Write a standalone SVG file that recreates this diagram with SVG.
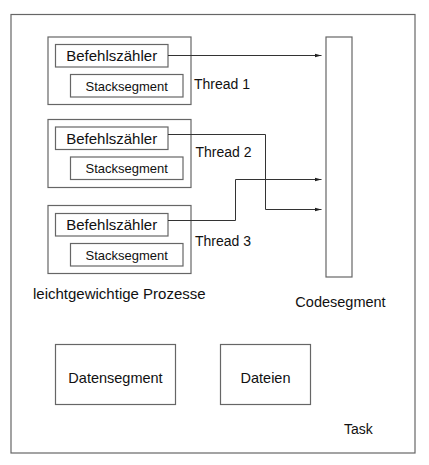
<svg xmlns="http://www.w3.org/2000/svg" width="429" height="465" viewBox="0 0 429 465">
<defs>
<style>
.box{fill:#fff;stroke:#666;stroke-width:1.2}
.t{font-family:"Liberation Sans",Arial,sans-serif;fill:#111;font-size:14px}
.b{font-size:15px}
.s{font-size:13px}
.c{fill:none;stroke:#333;stroke-width:1}
</style>
<marker id="ah" markerWidth="7" markerHeight="5" refX="7" refY="2.5" orient="auto" markerUnits="userSpaceOnUse">
<path d="M0,0.5 L7,2.5 L0,4.5 z" fill="#222"/>
</marker>
</defs>
<rect width="429" height="465" fill="#fff"/>
<g id="task">
<rect class="box" x="11" y="14.5" width="404" height="438.5"/>
<text class="t" x="344" y="434">Task</text>
</g>
<g id="thread1">
<rect class="box" x="48" y="37" width="143" height="67.5"/>
<rect class="box" x="55.5" y="44.5" width="112.5" height="22.5"/>
<text class="t b" x="111.7" y="61" text-anchor="middle">Befehlszähler</text>
<rect class="box" x="70.5" y="74.5" width="112.5" height="22.5"/>
<text class="t s" x="126.7" y="90.5" text-anchor="middle">Stacksegment</text>
<text class="t" x="194" y="89">Thread 1</text>
</g>
<g id="thread2">
<rect class="box" x="48" y="119.5" width="143" height="68"/>
<rect class="box" x="55.5" y="127" width="112.5" height="22.5"/>
<text class="t b" x="111.7" y="143.5" text-anchor="middle">Befehlszähler</text>
<rect class="box" x="70.5" y="157" width="112.5" height="22.5"/>
<text class="t s" x="126.7" y="173" text-anchor="middle">Stacksegment</text>
<text class="t" x="195.5" y="157">Thread 2</text>
</g>
<g id="thread3">
<rect class="box" x="48" y="205.5" width="143" height="68"/>
<rect class="box" x="55.5" y="213.5" width="112.5" height="22.5"/>
<text class="t b" x="111.7" y="230" text-anchor="middle">Befehlszähler</text>
<rect class="box" x="70.5" y="243.5" width="112.5" height="22.5"/>
<text class="t s" x="126.7" y="259.5" text-anchor="middle">Stacksegment</text>
<text class="t" x="195" y="246">Thread 3</text>
</g>
<g id="lwp-label">
<text class="t b" x="33" y="299">leichtgewichtige Prozesse</text>
</g>
<g id="codesegment">
<rect class="box" x="326" y="37" width="26" height="240"/>
<text class="t" x="340.5" y="306.5" text-anchor="middle" style="font-size:14.5px">Codesegment</text>
</g>
<g id="datensegment">
<rect class="box" x="55.5" y="344.5" width="120" height="60"/>
<text class="t" x="115.5" y="382.5" text-anchor="middle" style="font-size:14.5px">Datensegment</text>
</g>
<g id="dateien">
<rect class="box" x="220.5" y="344.5" width="90" height="60"/>
<text class="t" x="265.5" y="382.5" text-anchor="middle" style="font-size:14.5px">Dateien</text>
</g>
<g id="connectors">
<path class="c" d="M168,55.5 H321.5" marker-end="url(#ah)"/>
<path class="c" d="M168,134.5 H265.5 V209.5 H321.5" marker-end="url(#ah)"/>
<path class="c" d="M168,220.5 H235.5 V179.5 H321.5" marker-end="url(#ah)"/>
</g>
</svg>
